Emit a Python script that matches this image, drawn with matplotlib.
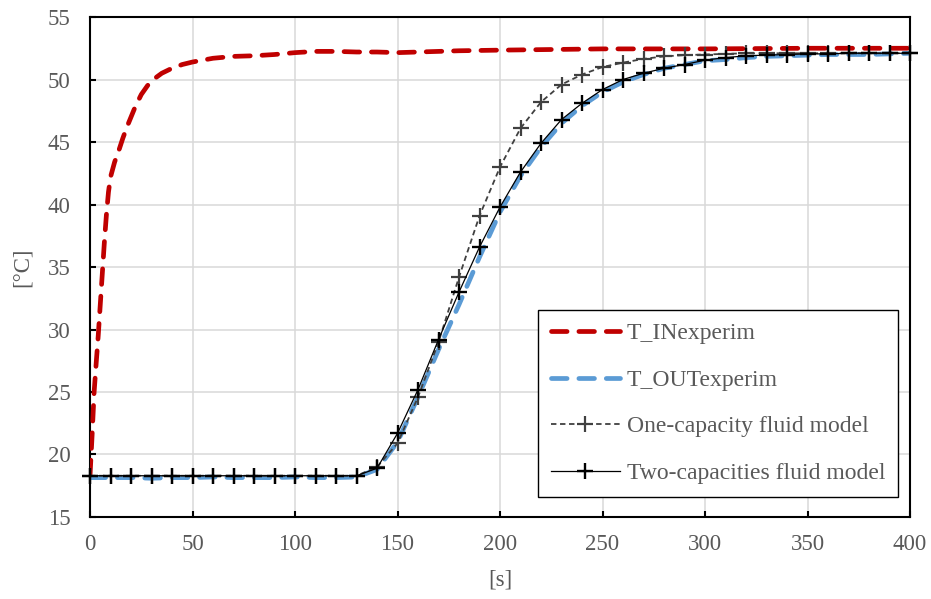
import numpy as np
import matplotlib
matplotlib.use("Agg")
import matplotlib.pyplot as plt

# --- measured inlet temperature ---
t_in = [0, 1, 2, 3, 4, 5, 6, 7, 8, 9, 10, 12, 14, 16, 18, 20, 22, 25, 28, 30,
        35, 40, 45, 50, 60, 70, 80, 90, 100, 110, 120, 130, 140, 150, 160,
        180, 200, 250, 300, 350, 400]
T_in = [18.3, 21.5, 25.0, 27.3, 29.5, 32.0, 34.5, 37.0, 39.2, 41.0, 42.2,
        43.4, 44.3, 45.3, 46.2, 47.0, 47.8, 48.8, 49.5, 49.9, 50.5, 50.9,
        51.2, 51.4, 51.7, 51.85, 51.9, 52.0, 52.15, 52.25, 52.25, 52.2, 52.2,
        52.15, 52.2, 52.3, 52.35, 52.45, 52.45, 52.5, 52.5]

# --- measured outlet temperature + models (10 s step) ---
t_10 = list(range(0, 401, 10))
T_out = [18.15, 18.15, 18.15, 18.1, 18.15, 18.15, 18.2, 18.15, 18.15, 18.15,
         18.2, 18.15, 18.15, 18.2, 18.8, 21.0, 24.6, 28.4, 32.0, 35.8, 39.4,
         42.3, 44.6, 46.5, 47.9, 49.0, 49.8, 50.4, 50.9, 51.2, 51.5, 51.6,
         51.75, 51.85, 51.9, 51.95, 52.0, 52.0, 52.0, 52.05, 52.1]
T_one = [18.3] * 14 + [19.0, 20.9, 24.6, 29.0, 34.2, 39.1, 43.0, 46.1, 48.2,
                       49.6, 50.4, 51.0, 51.35, 51.65, 51.85, 51.95, 52.0,
                       52.05, 52.1, 52.1, 52.1, 52.1, 52.1, 52.1, 52.1, 52.1,
                       52.1]
T_two = [18.3] * 14 + [18.9, 21.7, 25.2, 29.2, 33.0, 36.6, 39.8, 42.6, 44.9,
                       46.8, 48.1, 49.2, 50.0, 50.5, 50.9, 51.2, 51.55, 51.75,
                       51.9, 51.95, 52.0, 52.05, 52.05, 52.1, 52.1, 52.1, 52.1]

plt.rcParams['font.family'] = ['Liberation Serif', 'DejaVu Serif']
txt = '#595959'
fs = 16.5

fig = plt.figure(figsize=(9.31, 5.99), dpi=100)
ax = fig.add_axes([0.0967, 0.1369, 0.8808, 0.8347])

ax.plot(t_in, T_in, color='#C00000', lw=3.4, linestyle=(0, (3.3, 2.5)),
        dash_capstyle='round', label='T_INexperim', zorder=3)
ax.plot(t_10, T_out, color='#5B9BD5', lw=3.4, linestyle=(0, (3.3, 2.5)),
        dash_capstyle='round', label='T_OUTexperim', zorder=3)
ax.plot(t_10, T_one, color='#404040', lw=1.3, linestyle=(0, (3, 2)),
        marker='+', ms=12, mew=1.6, label='One-capacity fluid model',
        zorder=4, clip_on=False)
ax.plot(t_10, T_two, color='black', lw=0.9, marker='+', ms=12, mew=1.7,
        label='Two-capacities fluid model', zorder=5, clip_on=False)

ax.set_xlim(0, 400)
ax.set_ylim(15, 55)
ax.set_xticks(np.arange(0, 401, 50))
ax.set_yticks(np.arange(15, 56, 5))
ax.grid(True, color='#d9d9d9', lw=1.1)
ax.set_axisbelow(True)

for s in ax.spines.values():
    s.set_linewidth(1.5)
    s.set_color('black')
ax.tick_params(direction='in', length=4.5, width=1.5, colors='black',
               labelcolor=txt, labelsize=fs)
ax.tick_params(axis='y', pad=14)
ax.tick_params(axis='x', pad=12)

ax.set_xlabel('[s]', color=txt, fontsize=fs, labelpad=11)
ax.set_ylabel('[°C]', color=txt, fontsize=fs, labelpad=11)

leg = ax.legend(loc='lower right', bbox_to_anchor=(0.9854, 0.04),
                borderaxespad=0, fontsize=17, handlelength=2.9,
                labelspacing=1.06, frameon=True, fancybox=False,
                borderpad=0.55, handletextpad=0.3)
leg.get_frame().set_edgecolor('black')
leg.get_frame().set_linewidth(1.0)
leg.get_frame().set_alpha(1)
for t in leg.get_texts():
    t.set_color(txt)

fig.savefig('out.png', dpi=100)
